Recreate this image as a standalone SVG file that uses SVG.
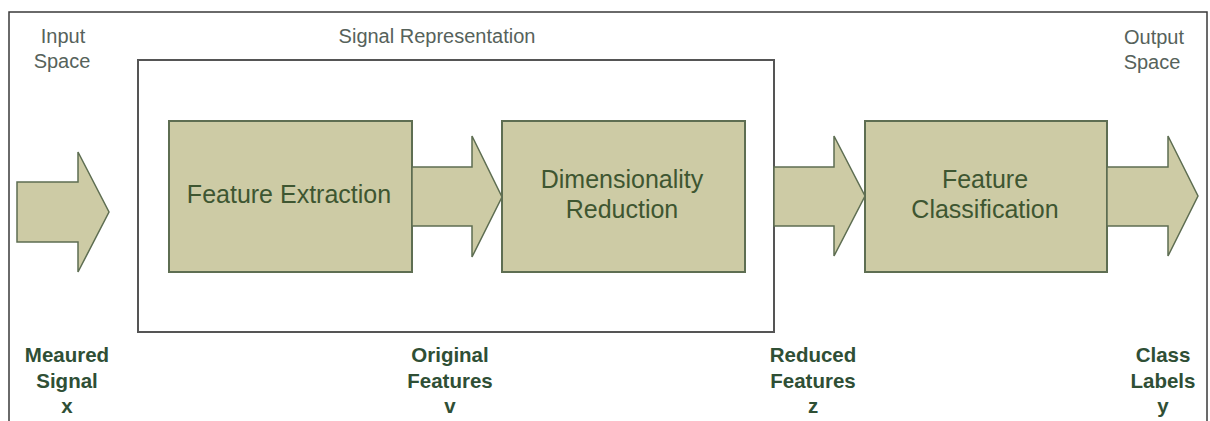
<svg xmlns="http://www.w3.org/2000/svg" width="1210" height="421" viewBox="0 0 1210 421">
  <style>
    .frame { fill: #ffffff; stroke: #3a3a3a; stroke-width: 1.5; }
    .group { fill: none; stroke: #555555; stroke-width: 2; }
    .block { fill: #cdcba5; stroke: #5e6e52; stroke-width: 2; }
    .arrow { fill: #cdcba5; stroke: #5e6e52; stroke-width: 1.5; stroke-linejoin: miter; }
    .space { font-family: "Liberation Sans", Arial, sans-serif; font-size: 20px; fill: #56625b; text-anchor: middle; }
    .blocktext { font-family: "Liberation Sans", Arial, sans-serif; font-size: 25px; fill: #3e5631; text-anchor: middle; }
    .signal { font-family: "Liberation Sans", Arial, sans-serif; font-size: 20.5px; font-weight: bold; fill: #2f4f35; text-anchor: middle; }
  </style>

  <rect class="frame" x="9" y="12" width="1198" height="420"/>

  <!-- Domain labels -->
  <g id="input-space">
    <text class="space" x="63" y="43">Input</text>
    <text class="space" x="62" y="68">Space</text>
  </g>
  <g id="output-space">
    <text class="space" x="1154" y="44">Output</text>
    <text class="space" x="1152" y="69">Space</text>
  </g>

  <!-- Signal representation grouping -->
  <g id="signal-representation">
    <rect class="group" x="138" y="60" width="636" height="272"/>
    <text class="space" x="437" y="43">Signal Representation</text>
  </g>

  <!-- Processing blocks -->
  <g id="feature-extraction">
    <rect class="block" x="169" y="121" width="243" height="151"/>
    <text class="blocktext" x="289" y="203">Feature Extraction</text>
  </g>
  <g id="dimensionality-reduction">
    <rect class="block" x="502" y="121" width="243" height="151"/>
    <text class="blocktext" x="622" y="188">Dimensionality</text>
    <text class="blocktext" x="622" y="218">Reduction</text>
  </g>
  <g id="feature-classification">
    <rect class="block" x="865" y="121" width="242" height="151"/>
    <text class="blocktext" x="985" y="188">Feature</text>
    <text class="blocktext" x="985" y="218">Classification</text>
  </g>

  <!-- Block arrows between stages -->
  <g id="connectors">
    <polygon class="arrow" points="17,182 78,182 78,152 109,212 78,272 78,242 17,242"/>
    <polygon class="arrow" points="412,167 472,167 472,136 502,197 472,257 472,226 412,226"/>
    <polygon class="arrow" points="774,167 834,167 834,136 865,196 834,256 834,226 774,226"/>
    <polygon class="arrow" points="1107,167 1168,167 1168,136 1198,196 1168,256 1168,226 1107,226"/>
  </g>

  <!-- Signal labels -->
  <g id="measured-signal">
    <text class="signal" x="67" y="362">Meaured</text>
    <text class="signal" x="67" y="388">Signal</text>
    <text class="signal" x="67" y="413">x</text>
  </g>
  <g id="original-features">
    <text class="signal" x="450" y="362">Original</text>
    <text class="signal" x="450" y="388">Features</text>
    <text class="signal" x="450" y="413">v</text>
  </g>
  <g id="reduced-features">
    <text class="signal" x="813" y="362">Reduced</text>
    <text class="signal" x="813" y="388">Features</text>
    <text class="signal" x="813" y="413">z</text>
  </g>
  <g id="class-labels">
    <text class="signal" x="1163" y="362">Class</text>
    <text class="signal" x="1163" y="388">Labels</text>
    <text class="signal" x="1163" y="413">y</text>
  </g>
</svg>
